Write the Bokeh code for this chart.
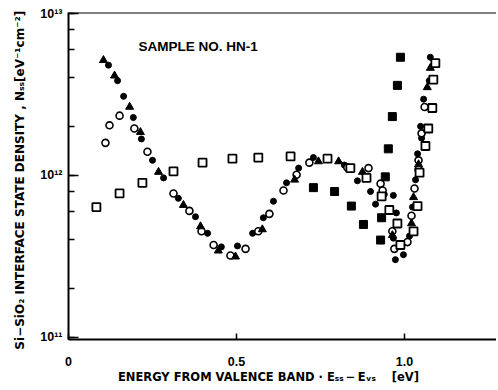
from bokeh.plotting import figure
from bokeh.models import FixedTicker, Span, LogTicker
from bokeh.core.properties import value
from bokeh.embed import file_html
from bokeh.resources import INLINE

# ---- data (energy in eV, density in eV^-1 cm^-2) ----
tri_E = [0.104, 0.137, 0.182, 0.214, 0.268, 0.342, 0.393, 0.446, 0.497, 0.577, 0.673,
         0.744, 0.804, 0.875, 0.964, 1.021, 1.027, 1.042, 1.068, 1.077]
tri_N = [5.15e12, 4.13e12, 2.65e12, 1.85e12, 1.05e12, 6.56e11, 4.84e11, 3.43e11, 3.15e11,
         4.64e11, 9.4e11, 1.22e12, 1.22e12, 1.05e12, 4.27e11, 5.05e11, 7.33e11, 1.17e12,
         3.5e12, 4.61e12]

fc_E = [0.119, 0.146, 0.164, 0.193, 0.217, 0.25, 0.283, 0.327, 0.378, 0.414, 0.455, 0.503,
        0.548, 0.580, 0.610, 0.649, 0.685, 0.729, 0.821, 0.860, 0.899, 0.914, 0.940, 0.967,
        0.976, 0.967, 1.009, 0.997, 0.973, 1.015, 1.024, 1.033, 1.039, 1.051, 1.048, 1.057,
        1.074, 1.077]
fc_N = [4.8e12, 3.85e12, 3.08e12, 2.28e12, 1.68e12, 1.24e12, 9.66e11, 7.22e11, 5.56e11,
        4.39e11, 3.62e11, 3.67e11, 4.39e11, 5.48e11, 6.93e11, 9.0e11, 1.11e12, 1.29e12,
        1.16e12, 9.27e11, 7.96e11, 6.65e11, 7.64e11, 7.53e11, 5.87e11, 4.1e11, 3.83e11,
        3.24e11, 3.02e11, 4.22e11, 6.38e11, 9.4e11, 1.36e12, 1.70e12, 2.01e12, 2.96e12,
        3.85e12, 5.37e12]

oc_E = [0.110, 0.122, 0.152, 0.196, 0.235, 0.3125, 0.360, 0.396, 0.432, 0.482, 0.527,
        0.565, 0.598, 0.640, 0.679, 0.717, 0.830, 0.893, 0.929, 0.935, 0.964, 0.970,
        1.009, 1.021, 1.030, 1.042, 1.042, 1.051, 1.060]
oc_N = [1.59e12, 2.04e12, 2.34e12, 1.95e12, 1.40e12, 7.74e11, 6.04e11, 4.52e11, 3.72e11,
        3.2e11, 3.52e11, 4.52e11, 5.79e11, 8.07e11, 1.01e12, 1.2e12, 1.12e12, 1.11e12,
        8.9e11, 8.07e11, 4.52e11, 3.52e11, 3.88e11, 5.64e11, 8.3e11, 1.09e12, 1.24e12,
        1.82e12, 2.65e12]

os_E = [0.083, 0.152, 0.220, 0.3125, 0.399, 0.488, 0.565, 0.661, 0.771, 0.839, 0.887,
        0.932, 0.955, 0.979, 0.988, 1.027, 1.039, 1.045, 1.0625, 1.071, 1.083, 1.086, 1.092]
os_N = [6.38e11, 7.74e11, 9.0e11, 1.06e12, 1.2e12, 1.27e12, 1.29e12, 1.31e12, 1.27e12,
        1.11e12, 9.66e11, 7.43e11, 6.12e11, 5.05e11, 3.72e11, 4.52e11, 6.47e11, 1.04e12,
        1.52e12, 1.95e12, 2.61e12, 3.91e12, 4.94e12]

fs_E = [0.729, 0.792, 0.842, 0.878, 0.929, 0.932, 0.943, 0.952, 0.964, 0.979, 0.988]
fs_N = [8.41e11, 7.96e11, 6.47e11, 4.98e11, 3.99e11, 5.48e11, 9.8e11, 1.46e12, 2.31e12,
        3.6e12, 5.37e12]

x_ticks = [0, 0.5, 1.0]
x_labels = ["0", "0.5", "1.0"]
y_ticks = [1e11, 1e12, 1e13]
y_labels = ["10\u00b9\u00b9", "10\u00b9\u00b2", "10\u00b9\u00b3"]

FONT = "Liberation Sans"
NB = "\u00a0"

p = figure(width=496, height=386, output_backend="svg", toolbar_location=None,
           y_axis_type="log", x_range=(0, 1.274), y_range=(0.97e11, 1.015e13),
           min_border_left=68, min_border_right=0, min_border_top=12, min_border_bottom=40)
p.background_fill_color = "white"
p.border_fill_color = "white"
p.outline_line_color = None
p.grid.visible = False

# markers
p.scatter(fc_E, fc_N, marker="circle", size=6, color="black")
p.scatter(oc_E, oc_N, marker="circle", size=7, fill_color="white", line_color="black", line_width=1.6)
p.scatter(tri_E, tri_N, marker="triangle", size=8, color="black")
p.scatter(os_E, os_N, marker="square", size=8, fill_color="white", line_color="black", line_width=1.8)
p.scatter(fs_E, fs_N, marker="square", size=8, color="black")

p.text(x=[0.208], y=[6.3e12], text=["SAMPLE NO. HN-1"], text_font=value(FONT),
       text_font_size="13.5px", text_font_style="bold", text_baseline="middle",
       text_align="left", text_color="black")

p.add_layout(Span(location=1.015e13, dimension="width", line_color="black", line_width=2))

# x axis
xa = p.xaxis[0]
xa.ticker = FixedTicker(ticks=x_ticks, minor_ticks=[])
xa.major_label_overrides = dict(zip(x_ticks, x_labels))
xa.axis_label = ("ENERGY FROM VALENCE BAND \u00b7 E\u209b\u209b\u2009\u2212\u2009E\u1d65\u209b"
                 + NB * 4 + "[eV]" + NB * 7)
xa.major_tick_in = 6
xa.major_tick_out = 0
xa.minor_tick_in = 0
xa.minor_tick_out = 0
xa.axis_line_width = 2
xa.major_tick_line_width = 1.5
xa.major_label_standoff = 17
xa.axis_label_standoff = 1
xa.axis_label_text_font = "DejaVu Sans"
xa.axis_label_text_font_size = "11.5px"

# y axis
ya = p.yaxis[0]
ya.ticker = LogTicker(desired_num_ticks=3)
ya.major_label_overrides = dict(zip(y_ticks, y_labels))
ya.axis_label = ("Si\u2212SiO\u2082 INTERFACE STATE DENSITY , N\u209b\u209b[eV\u207b\u00b9cm\u207b\u00b2]"
                 + NB * 2)
ya.axis_label_text_font = "DejaVu Sans"
ya.axis_label_text_font_size = "12px"
ya.major_tick_in = 10
ya.major_tick_out = 0
ya.minor_tick_in = 6
ya.minor_tick_out = 0
ya.axis_line_width = 2
ya.major_tick_line_width = 1.5
ya.minor_tick_line_width = 1.5
ya.major_label_standoff = 6
ya.axis_label_standoff = 10

for ax in (xa, ya):
    ax.major_label_text_font = FONT
    ax.major_label_text_font_style = "bold"
    ax.major_label_text_font_size = "12.5px"
    ax.major_label_text_color = "black"
    ax.axis_label_text_font_style = "bold"
    ax.axis_label_text_color = "black"
    ax.axis_line_color = "black"
    ax.major_tick_line_color = "black"
    ax.minor_tick_line_color = "black"

open("out.html", "w").write(file_html(p, INLINE))
